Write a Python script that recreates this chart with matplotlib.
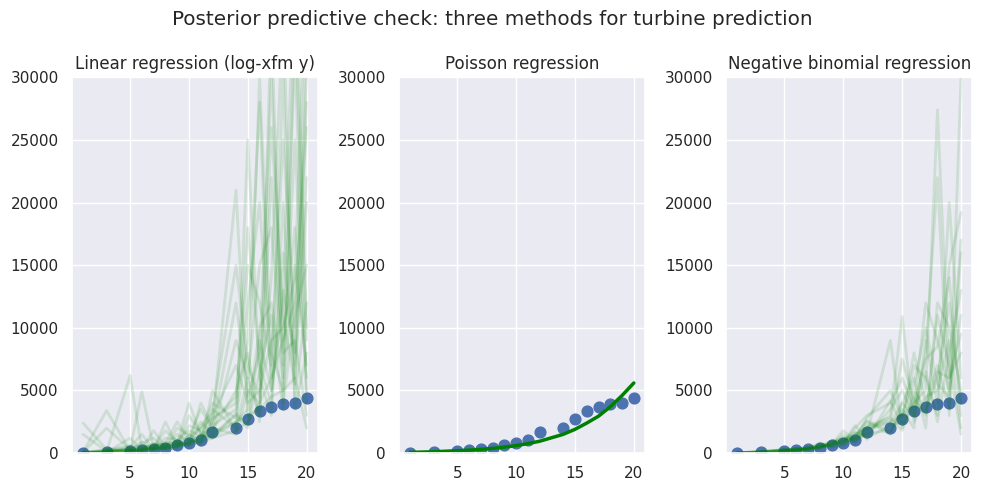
import numpy as np
import matplotlib
matplotlib.use("Agg")
import matplotlib.pyplot as plt
import seaborn as sns

sns.set_theme()

# observed turbine counts
years = [1, 3, 5, 6, 7, 8, 9, 10, 11, 12, 14, 15, 16, 17, 18, 19, 20]
turbines = [20, 80, 200, 240, 290, 430, 610, 780, 1010, 1650, 1970, 2700, 3330, 3650, 3920, 3970, 4380]

# posterior predictive draws (linear regression on log y)
linear_draws = [
    [2400, 300, 150, 200, 250, 400, 500, 700, 900, 1200, 1800, 2500, 4000, 6000, 9000, 12000, 26000],
    [100, 3400, 200, 150, 300, 400, 600, 800, 1500, 1300, 2500, 3500, 30000, 8000, 5000, 15000, 7000],
    [50, 100, 6200, 300, 400, 300, 500, 900, 1200, 2000, 1500, 5000, 4000, 14000, 35000, 6000, 20000],
    [30, 150, 300, 4900, 400, 600, 700, 1000, 800, 1500, 3000, 2000, 9000, 5000, 12000, 40000, 10000],
    [20, 80, 200, 300, 1800, 500, 800, 600, 1300, 3500, 2000, 6000, 3000, 22000, 8000, 9000, 3000],
    [40, 200, 500, 1500, 300, 2500, 600, 1200, 2000, 2800, 4000, 18000, 7000, 4000, 16000, 7000, 35000],
    [60, 100, 250, 200, 500, 400, 2000, 1500, 1000, 2500, 21000, 3000, 10000, 12000, 6000, 25000, 5000],
    [10, 300, 150, 400, 350, 700, 500, 3000, 1600, 1800, 5000, 8000, 2500, 35000, 4000, 11000, 15000],
    [80, 50, 400, 300, 800, 600, 900, 700, 4000, 2200, 3500, 12000, 20000, 6000, 30000, 3500, 8000],
    [30, 120, 200, 600, 400, 1200, 1100, 1800, 1400, 3000, 7000, 4000, 5000, 9000, 10000, 14000, 40000],
    [20, 90, 180, 250, 300, 450, 600, 800, 1100, 1600, 2500, 3000, 3500, 4500, 5000, 6000, 2000],
    [1500, 150, 350, 200, 600, 300, 400, 1500, 600, 5000, 1800, 25000, 6000, 3000, 20000, 4500, 12000],
    [50, 2000, 300, 900, 250, 500, 1500, 900, 2500, 1500, 9000, 6000, 15000, 18000, 7000, 32000, 4000],
    [25, 60, 1200, 250, 350, 900, 700, 2200, 1800, 4000, 2800, 9000, 28000, 5000, 13000, 8000, 22000],
    [15, 100, 220, 350, 700, 550, 1000, 1300, 3500, 2000, 12000, 4500, 8000, 30000, 9000, 18000, 6000],
    [35, 250, 600, 450, 500, 800, 2500, 1100, 900, 2600, 4500, 15000, 12000, 7000, 25000, 10000, 30000],
    [45, 70, 160, 800, 1200, 350, 800, 4000, 1500, 1200, 3200, 2200, 6500, 11000, 3500, 35000, 9000],
    [70, 180, 280, 220, 450, 1800, 900, 600, 2200, 3200, 15000, 7000, 4500, 26000, 11000, 5500, 28000],
]

# poisson draws all sit on the mean curve
poisson_mean = [60, 110, 190, 240, 300, 380, 480, 600, 760, 950, 1500, 1900, 2400, 2950, 3700, 4600, 5600]

negbin_draws = [
    [10, 80, 150, 200, 400, 500, 700, 900, 1500, 2000, 2500, 3000, 4000, 5000, 27400, 6000, 8000],
    [30, 100, 300, 250, 300, 600, 500, 1200, 1000, 1500, 9000, 2000, 5000, 3500, 6000, 12000, 4000],
    [20, 60, 200, 400, 250, 400, 900, 700, 1300, 2500, 1500, 4000, 3000, 8000, 22000, 3000, 30000],
    [15, 120, 250, 150, 350, 700, 600, 1500, 800, 1800, 3000, 10900, 2500, 4500, 5000, 9000, 2000],
    [25, 90, 180, 300, 500, 450, 800, 1000, 1700, 1200, 2200, 2500, 7000, 6000, 3000, 15000, 19200],
    [40, 70, 220, 350, 280, 550, 650, 800, 2000, 3000, 4000, 6000, 3500, 12000, 9000, 5000, 11000],
    [10, 110, 300, 200, 450, 350, 1000, 1100, 900, 2200, 2800, 1800, 4500, 3000, 11000, 7000, 1500],
    [20, 50, 160, 280, 380, 800, 550, 600, 1200, 1600, 1800, 3500, 2000, 9000, 4000, 20000, 6000],
    [35, 130, 240, 320, 300, 500, 750, 1300, 1100, 2800, 5000, 2800, 8000, 4000, 7000, 3500, 16000],
    [15, 85, 190, 260, 420, 650, 850, 950, 1600, 1400, 3500, 5000, 3000, 6500, 2500, 8000, 13000],
    [30, 75, 210, 230, 330, 420, 680, 1800, 1000, 1900, 2400, 4000, 6000, 2000, 12000, 10000, 5000],
    [20, 95, 170, 380, 260, 600, 500, 700, 1400, 2600, 1700, 3200, 5500, 10000, 5500, 4500, 17000],
    [25, 65, 260, 190, 480, 380, 950, 850, 2200, 1100, 4200, 2200, 3800, 7500, 8500, 14000, 3000],
    [45, 105, 230, 310, 360, 520, 620, 1000, 1250, 2100, 2600, 7500, 4200, 3200, 6500, 6000, 9500],
]

titles = ["Linear regression (log-xfm y)", "Poisson regression", "Negative binomial regression"]

fig, axes = plt.subplots(1, 3, figsize=(9.84, 4.92), dpi=100)

# Linear regression panel
ax = axes[0]
ax.scatter(years, turbines, s=60)
for draw in linear_draws:
    ax.plot(years, draw, color="green", alpha=0.12, lw=2)

# Poisson panel
ax = axes[1]
ax.scatter(years, turbines, s=60)
ax.plot(years, poisson_mean, color="green", lw=2.5)

# Negative binomial panel
ax = axes[2]
ax.scatter(years, turbines, s=60)
for draw in negbin_draws:
    ax.plot(years, draw, color="green", alpha=0.12, lw=2)

for ax, title in zip(axes, titles):
    ax.set_title(title)
    ax.set_ylim(0, 30000)
    ax.set_xlim(0.05, 20.95)

fig.suptitle("Posterior predictive check: three methods for turbine prediction")
fig.subplots_adjust(left=0.073, right=0.988, bottom=0.079, top=0.843, wspace=0.33)
fig.savefig("out.png")
